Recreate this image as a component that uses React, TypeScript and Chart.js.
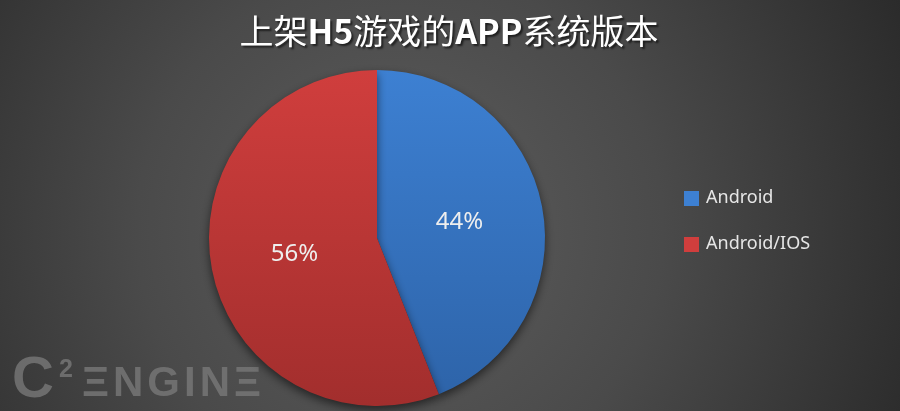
import React, { useEffect, useRef } from "react";
import { Chart, registerables } from "chart.js";

Chart.register(...registerables);

const titleText = "上架H5游戏的APP系统版本";
const categories = ["Android", "Android/IOS"];
const shares = [44, 56];
const colorsTop = ["#3d80d2", "#d03e3d"];
const colorsBottom = ["#2d63a8", "#a22e2d"];
const watermarkParts = ["C", "2", "ΞNGINΞ"];

const W = 900;
const H = 411;

function drawTitle(ctx: CanvasRenderingContext2D, text: string, cx: number, cy: number) {
  // split into CJK (regular) and Latin (bold) runs
  const runs: { t: string; bold: boolean }[] = [];
  for (const ch of text) {
    const bold = /[A-Za-z0-9]/.test(ch);
    const last = runs[runs.length - 1];
    if (last && last.bold === bold) last.t += ch;
    else runs.push({ t: ch, bold });
  }
  const fontFor = (b: boolean) => (b ? "bold 34px 'Noto Sans CJK SC'" : "normal 34px 'Noto Sans CJK SC'");
  let total = 0;
  const widths = runs.map((r) => {
    ctx.font = fontFor(r.bold);
    const w = ctx.measureText(r.t).width;
    total += w;
    return w;
  });
  let x = cx - total / 2;
  ctx.textAlign = "left";
  runs.forEach((r, i) => {
    ctx.font = fontFor(r.bold);
    ctx.fillText(r.t, x, cy);
    x += widths[i];
  });
}

export default function App() {
  const ref = useRef<HTMLCanvasElement | null>(null);

  useEffect(() => {
    document.body.style.margin = "0";
    const canvas = ref.current;
    if (!canvas) return;

    const bgPlugin = {
      id: "bg",
      beforeDraw(chart: any) {
        const ctx = chart.ctx;
        ctx.save();
        const g = ctx.createRadialGradient(400, 230, 20, 400, 230, 560);
        g.addColorStop(0, "#5c5c5c");
        g.addColorStop(0.45, "#4a4a4a");
        g.addColorStop(1, "#2a2a2a");
        ctx.fillStyle = g;
        ctx.fillRect(0, 0, chart.width, chart.height);
        // watermark
        ctx.fillStyle = "rgba(120,120,120,0.8)";
        ctx.textBaseline = "alphabetic";
        ctx.textAlign = "left";
        ctx.font = "bold 58px 'Liberation Sans'";
        ctx.fillText(watermarkParts[0], 12, 397);
        ctx.font = "bold 25px 'Liberation Sans'";
        ctx.fillText(watermarkParts[1], 59, 377);
        ctx.font = "bold 42px 'Liberation Sans'";
        (ctx as any).letterSpacing = "4px";
        ctx.fillText(watermarkParts[2], 82, 396);
        (ctx as any).letterSpacing = "0px";
        // title
        ctx.textBaseline = "middle";
        ctx.shadowColor = "rgba(0,0,0,0.6)";
        ctx.shadowOffsetX = 2;
        ctx.shadowOffsetY = 2;
        ctx.shadowBlur = 2;
        ctx.fillStyle = "#ffffff";
        drawTitle(ctx, titleText, 449, 31);
        ctx.restore();
      },
      beforeDatasetsDraw(chart: any) {
        const ctx = chart.ctx;
        ctx.save();
        ctx.shadowColor = "rgba(0,0,0,0.55)";
        ctx.shadowBlur = 10;
        ctx.shadowOffsetY = 4;
      },
      afterDatasetsDraw(chart: any) {
        const ctx = chart.ctx;
        ctx.restore();
        const meta = chart.getDatasetMeta(0);
        ctx.save();
        ctx.font = "24px 'Noto Sans'";
        ctx.fillStyle = "#eeeeee";
        ctx.textAlign = "center";
        ctx.textBaseline = "middle";
        meta.data.forEach((arc: any, i: number) => {
          const p = arc.tooltipPosition();
          ctx.fillText(shares[i] + "%", p.x, p.y);
        });
        // legend
        ctx.font = "18px 'Noto Sans'";
        ctx.textAlign = "left";
        ctx.textBaseline = "middle";
        categories.forEach((c, i) => {
          const y = 198 + i * 46;
          ctx.fillStyle = colorsTop[i];
          ctx.fillRect(684, y - 7, 15, 15);
          ctx.fillStyle = "#e6e6e6";
          ctx.fillText(c, 706, y);
        });
        ctx.restore();
      },
    };

    const chart = new Chart(canvas, {
      type: "pie",
      data: {
        labels: categories,
        datasets: [
          {
            data: shares,
            backgroundColor: (c: any) => {
              const ch = c.chart;
              const area = ch.chartArea;
              if (!area) return colorsTop[c.dataIndex];
              const g = ch.ctx.createLinearGradient(0, area.top, 0, area.bottom);
              g.addColorStop(0, colorsTop[c.dataIndex]);
              g.addColorStop(1, colorsBottom[c.dataIndex]);
              return g;
            },
            borderWidth: 0,
          },
        ],
      },
      options: {
        responsive: false,
        animation: false,
        devicePixelRatio: 1,
        layout: { padding: { left: 209, right: 355, top: 70, bottom: 5 } },
        plugins: {
          legend: { display: false },
          title: { display: false },
          tooltip: { enabled: false },
        },
      },
      plugins: [bgPlugin],
    } as any);

    return () => chart.destroy();
  }, []);

  return (
    <div style={{ position: "absolute", left: 0, top: 0, width: W, height: H }}>
      <canvas ref={ref} width={W} height={H} style={{ width: W, height: H, display: "block" }} />
    </div>
  );
}
